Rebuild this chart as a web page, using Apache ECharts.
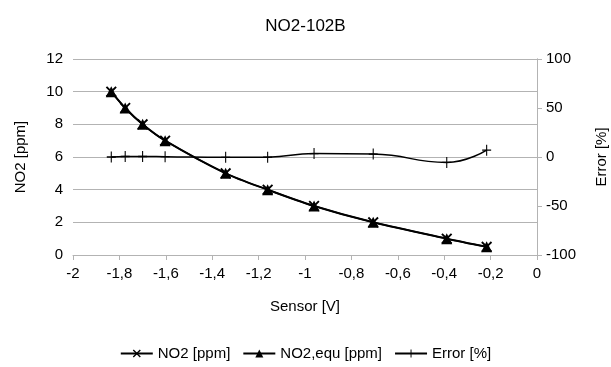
<!DOCTYPE html>
<html><head><meta charset="utf-8">
<script src="https://cdn.jsdelivr.net/npm/echarts@6/dist/echarts.min.js"></script>
<style>html,body{margin:0;padding:0;background:#fff}#c{width:611px;height:367px}</style>
</head><body><div id="c"></div>
<script>
const sensorV = [-1.835, -1.775, -1.70, -1.603, -1.342, -1.161, -0.961, -0.706, -0.389, -0.217];
const no2 = [10, 9, 8, 7, 5, 4, 3, 2, 1, 0.5];
const no2equ = [10, 9, 8, 7, 5, 4, 3, 2, 1, 0.5];
const errorPct = [0, 0.5, 0.5, 0.3, -0.3, -0.2, 3.5, 3, -5.5, 7];
const xTicks = [-2, -1.8, -1.6, -1.4, -1.2, -1, -0.8, -0.6, -0.4, -0.2, 0];

const pair = (xs, ys) => xs.map((x, i) => [x, ys[i]]);
const fmt = v => String(+(+v).toFixed(1)).replace('.', ',');
const FONT = 'Liberation Sans, Arial, sans-serif';
const XSYM = 'path://M0,1.2L1.2,0L5,3.8L8.8,0L10,1.2L6.2,5L10,8.8L8.8,10L5,6.2L1.2,10L0,8.8L3.8,5Z';
const PSYM = 'path://M4.4,0H5.6V4.4H10V5.6H5.6V10H4.4V5.6H0V4.4H4.4Z';
const gridCol = '#b3b3b3';
const FS = 15;

const chart = echarts.init(document.getElementById('c'));
chart.setOption({
  animation: false,
  textStyle: {fontFamily: FONT},
  title: {text: 'NO2-102B', left: 'center', top: 13,
    textStyle: {fontFamily: FONT, fontSize: 17, fontWeight: 'normal', color: '#000'}},
  legend: {bottom: 1, left: 'center', itemWidth: 32, itemHeight: 10, itemGap: 12,
    textStyle: {fontFamily: FONT, fontSize: FS, color: '#000'},
    data: ['NO2 [ppm]', 'NO2,equ [ppm]', 'Error [%]']},
  grid: {left: 73, right: 74, top: 59, bottom: 112, outerBoundsMode: 'none', containLabel: false},
  xAxis: {type: 'value', min: -2, max: 0, interval: 0.2,
    name: 'Sensor [V]', nameLocation: 'middle', nameGap: 44,
    nameTextStyle: {fontFamily: FONT, fontSize: FS, color: '#000'},
    axisLine: {show: true, onZero: false, lineStyle: {color: gridCol}},
    axisTick: {show: true, length: 5, lineStyle: {color: gridCol}},
    splitLine: {show: false},
    axisLabel: {formatter: fmt, fontSize: FS, color: '#000', margin: 11, fontFamily: FONT}},
  yAxis: [
    {type: 'value', min: 0, max: 12, interval: 2, position: 'left',
      name: 'NO2 [ppm]', nameLocation: 'middle', nameGap: 45, nameRotate: 90,
      nameTextStyle: {fontFamily: FONT, fontSize: FS, color: '#000'},
      axisLine: {show: true, lineStyle: {color: gridCol}},
      axisTick: {show: true, length: 5, lineStyle: {color: gridCol}},
      splitLine: {show: true, lineStyle: {color: gridCol}},
      axisLabel: {fontSize: FS, color: '#000', margin: 10, fontFamily: FONT}},
    {type: 'value', min: -100, max: 100, interval: 50, position: 'right',
      name: 'Error [%]', nameLocation: 'middle', nameGap: 57, nameRotate: 90,
      nameTextStyle: {fontFamily: FONT, fontSize: FS, color: '#000'},
      axisLine: {show: true, lineStyle: {color: gridCol}},
      axisTick: {show: true, length: 5, lineStyle: {color: gridCol}},
      splitLine: {show: false},
      axisLabel: {fontSize: FS, color: '#000', margin: 9, fontFamily: FONT}}
  ],
  series: [
    {name: 'Error [%]', type: 'line', yAxisIndex: 1, smooth: 0.5,
      data: pair(sensorV, errorPct), symbol: PSYM, symbolSize: [9, 11],
      itemStyle: {color: '#000'}, lineStyle: {color: '#000', width: 1.5}},
    {name: 'NO2,equ [ppm]', type: 'line', smooth: 0.3,
      data: pair(sensorV, no2equ), symbol: 'triangle', symbolSize: 11,
      itemStyle: {color: '#000'}, lineStyle: {color: '#000', width: 2}},
    {name: 'NO2 [ppm]', type: 'line', smooth: 0.3,
      data: pair(sensorV, no2), symbol: XSYM, symbolSize: 11,
      itemStyle: {color: '#000'}, lineStyle: {color: '#000', width: 1.5}}
  ]
});
</script></body></html>
